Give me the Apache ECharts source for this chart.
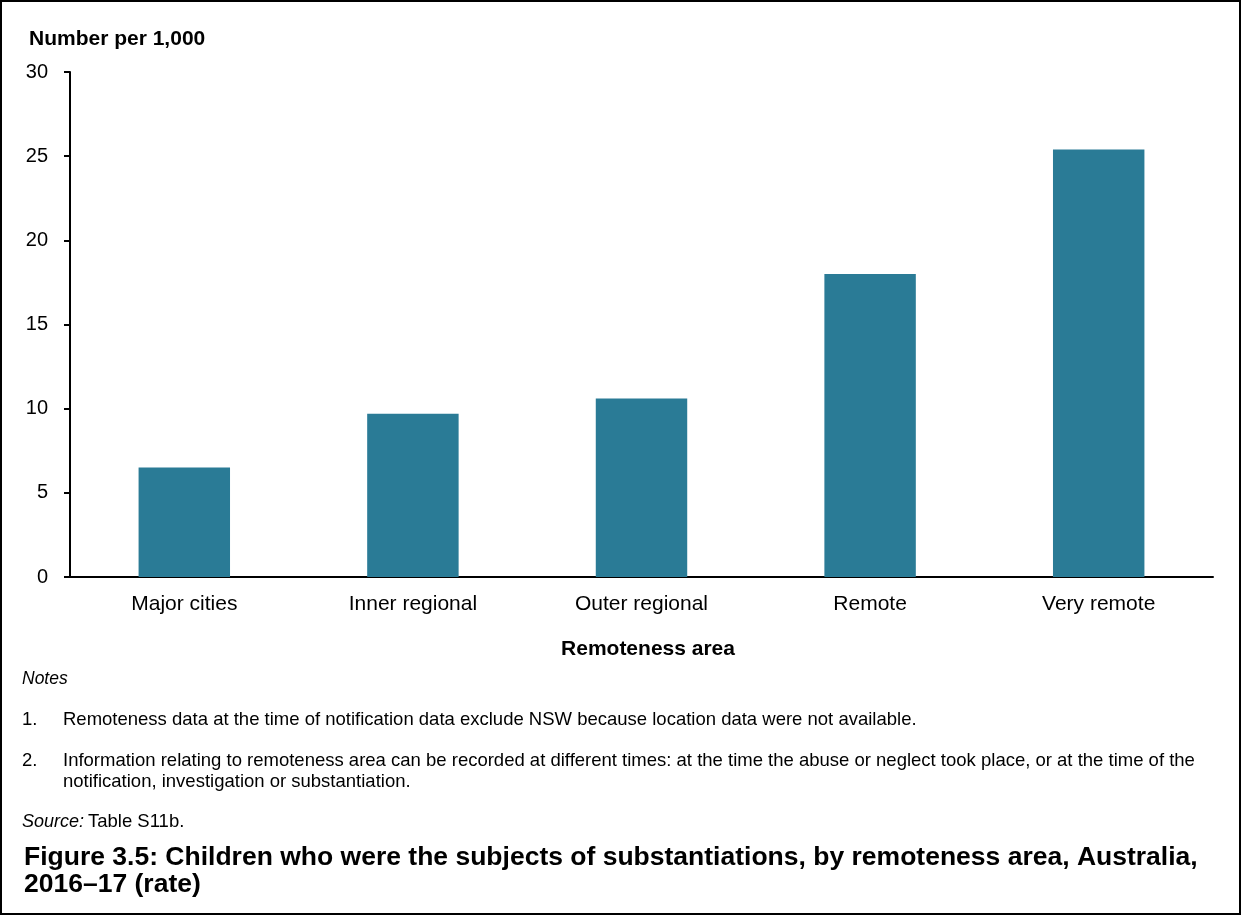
<!DOCTYPE html>
<html><head><meta charset="utf-8">
<script src="https://cdn.jsdelivr.net/npm/echarts@6/dist/echarts.min.js"></script>
<style>html,body{margin:0;padding:0;background:#fff}#c{width:1242px;height:917px}</style>
</head><body><div id="c"></div>
<script>
const categories = ['Major cities', 'Inner regional', 'Outer regional', 'Remote', 'Very remote'];
const rates = [6.5, 9.7, 10.6, 18.0, 25.4];
const yTicks = [0, 5, 10, 15, 20, 25, 30];
const yTitle = 'Number per 1,000';
const xTitle = 'Remoteness area';
const notes = [
  ['1.', 'Remoteness data at the time of notification data exclude NSW because location data were not available.'],
  ['2.', 'Information relating to remoteness area can be recorded at different times: at the time the abuse or neglect took place, or at the time of the', 'notification, investigation or substantiation.']
];
const sourceLabel = 'Source:';
const sourceText = 'Table S11b.';
const figTitle = ['Figure 3.5: Children who were the subjects of substantiations, by remoteness area, Australia,', '2016–17 (rate)'];

const FONT = '"Liberation Sans", Arial, sans-serif';
const chart = echarts.init(document.getElementById('c'), null, {renderer: 'canvas'});
const txt = (x, y, text, extra) => ({type: 'text', left: x, top: y, style: Object.assign({text: text, fill: '#000', font: '18.5px ' + FONT}, extra || {})});
const NF = '18.5px ' + FONT;
const graphics = [
  {type: 'rect', shape: {x: 1, y: 1, width: 1239, height: 913}, style: {fill: 'none', stroke: '#000', lineWidth: 2}, silent: true},
  txt(29, 29, yTitle, {font: 'bold 21px ' + FONT}),
  {type: 'text', x: 648, y: 639, style: {text: xTitle, fill: '#000', font: 'bold 21px ' + FONT, textAlign: 'center'}},
  txt(22, 670, 'Notes', {font: 'italic 17.5px ' + FONT}),
  txt(22, 710, notes[0][0], {font: NF}),
  txt(63, 710, notes[0][1], {font: NF}),
  txt(22, 751, notes[1][0], {font: NF}),
  txt(63, 751, notes[1][1], {font: NF}),
  txt(63, 772, notes[1][2], {font: NF}),
  {type: 'text', x: 22, y: 822, style: {text: sourceLabel, fill: '#000', font: 'italic 18px ' + FONT, textVerticalAlign: 'middle', verticalAlign: 'middle'}},
  {type: 'text', x: 88, y: 822, style: {text: sourceText, fill: '#000', font: NF, textVerticalAlign: 'middle', verticalAlign: 'middle'}},
  txt(24, 844, figTitle[0], {font: 'bold 26.5px ' + FONT}),
  txt(24, 871, figTitle[1], {font: 'bold 26.5px ' + FONT})
];
chart.setOption({
  animation: false,
  backgroundColor: '#fff',
  grid: {left: 70, right: 29, top: 72, bottom: 340, containLabel: false},
  xAxis: {
    type: 'category', data: categories,
    axisLine: {show: true, lineStyle: {color: '#000', width: 2}},
    axisTick: {show: false},
    axisLabel: {color: '#000', fontSize: 21, fontFamily: FONT, margin: 17}
  },
  yAxis: {
    type: 'value', min: yTicks[0], max: yTicks[yTicks.length - 1], interval: 5,
    axisLine: {show: true, lineStyle: {color: '#000', width: 2}},
    axisTick: {show: true, length: 6, lineStyle: {color: '#000', width: 2}},
    splitLine: {show: false},
    axisLabel: {color: '#000', fontSize: 20, fontFamily: FONT, margin: 22}
  },
  series: [{
    type: 'bar', data: rates, barWidth: '40%',
    itemStyle: {color: '#2a7b96'}
  }],
  graphic: graphics
});
</script></body></html>
